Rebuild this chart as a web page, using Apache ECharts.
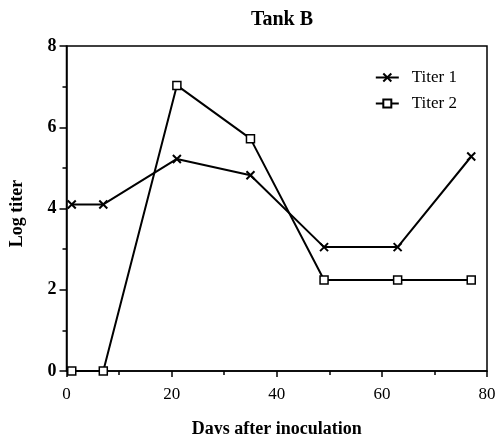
<!DOCTYPE html>
<html><head><meta charset="utf-8">
<script src="https://cdn.jsdelivr.net/npm/echarts@6/dist/echarts.min.js"></script>
<style>html,body{margin:0;padding:0;background:#fff}#c{width:497px;height:434px}</style>
</head><body><div id="c"></div>
<script>
const days = [1, 7, 21, 35, 49, 63, 77];
const titer1 = [4.1, 4.1, 5.22, 4.82, 3.05, 3.05, 5.28];
const titer2 = [0, 0, 7.03, 5.72, 2.24, 2.24, 2.24];
const seriesNames = ['Titer 1', 'Titer 2'];
const title = 'Tank B';
const xName = 'Days after inoculation';
const yName = 'Log titer';
const lctLabel = 'LCT';

const font = '"Liberation Serif", "DejaVu Serif", serif';
const chart = echarts.init(document.getElementById('c'));
const cross = 'path://M0,0L10,10M10,0L0,10';
chart.setOption({
  animation: false,
  backgroundColor: '#fff',
  title: { text: title, left: 277, top: 5, textAlign: 'center',
    textStyle: { fontFamily: font, fontWeight: 'bold', fontSize: 20, color: '#000' } },
  grid: { left: 66.5, right: 10, top: 46, bottom: 63, show: true, borderColor: '#000', borderWidth: 1.5,
    containLabel: false, outerBoundsMode: 'none' },
  legend: { right: 35, top: 64, orient: 'vertical', itemGap: 9, itemWidth: 23, itemHeight: 10,
    textStyle: { fontFamily: font, fontSize: 17, color: '#000', padding: [0, 0, 0, 8] },
    data: seriesNames },
  xAxis: { type: 'value', min: 0, max: 80, interval: 20,
    name: xName, nameLocation: 'middle', nameGap: 49,
    nameTextStyle: { fontFamily: font, fontWeight: 'bold', fontSize: 18, color: '#000' },
    axisLine: { lineStyle: { color: '#000', width: 1.5 } },
    axisTick: { show: true, length: 6, lineStyle: { color: '#000', width: 1.5 } },
    minorTick: { show: true, splitNumber: 2, length: 4, lineStyle: { color: '#000', width: 1.5 } },
    splitLine: { show: false },
    axisLabel: { fontFamily: font, fontSize: 17, color: '#000', margin: 15 } },
  yAxis: { type: 'value', min: 0, max: 8, interval: 2,
    name: yName, nameLocation: 'middle', nameGap: 40, nameRotate: 90,
    nameTextStyle: { fontFamily: font, fontWeight: 'bold', fontSize: 18, color: '#000', padding: [0, 10, 0, 0] },
    axisLine: { show: true, lineStyle: { color: '#000', width: 1.5 } },
    axisTick: { show: true, length: 7, lineStyle: { color: '#000', width: 1.5 } },
    minorTick: { show: true, splitNumber: 2, length: 4, lineStyle: { color: '#000', width: 1.5 } },
    splitLine: { show: false },
    axisLabel: { fontFamily: font, fontSize: 18, fontWeight: 'bold', color: '#000', margin: 10 } },
  series: [
    { name: seriesNames[0], type: 'line', data: days.map((d, i) => [d, titer1[i]]),
      symbol: cross, symbolSize: 8, showAllSymbol: true,
      lineStyle: { color: '#000', width: 2 },
      itemStyle: { color: '#000', borderColor: '#000', borderWidth: 2 } },
    { name: seriesNames[1], type: 'line', data: days.map((d, i) => [d, titer2[i]]),
      symbol: 'rect', symbolSize: 8, showAllSymbol: true,
      lineStyle: { color: '#000', width: 2 },
      itemStyle: { color: '#fff', borderColor: '#000', borderWidth: 1.5 },
      markPoint: { symbol: 'none', silent: true,
        data: [{ coord: [days[5], titer2[5]], value: lctLabel }],
        label: { show: true, formatter: lctLabel, offset: [-7, 22], fontFamily: font, fontSize: 17, color: '#000' } } }
  ]
});
</script></body></html>
